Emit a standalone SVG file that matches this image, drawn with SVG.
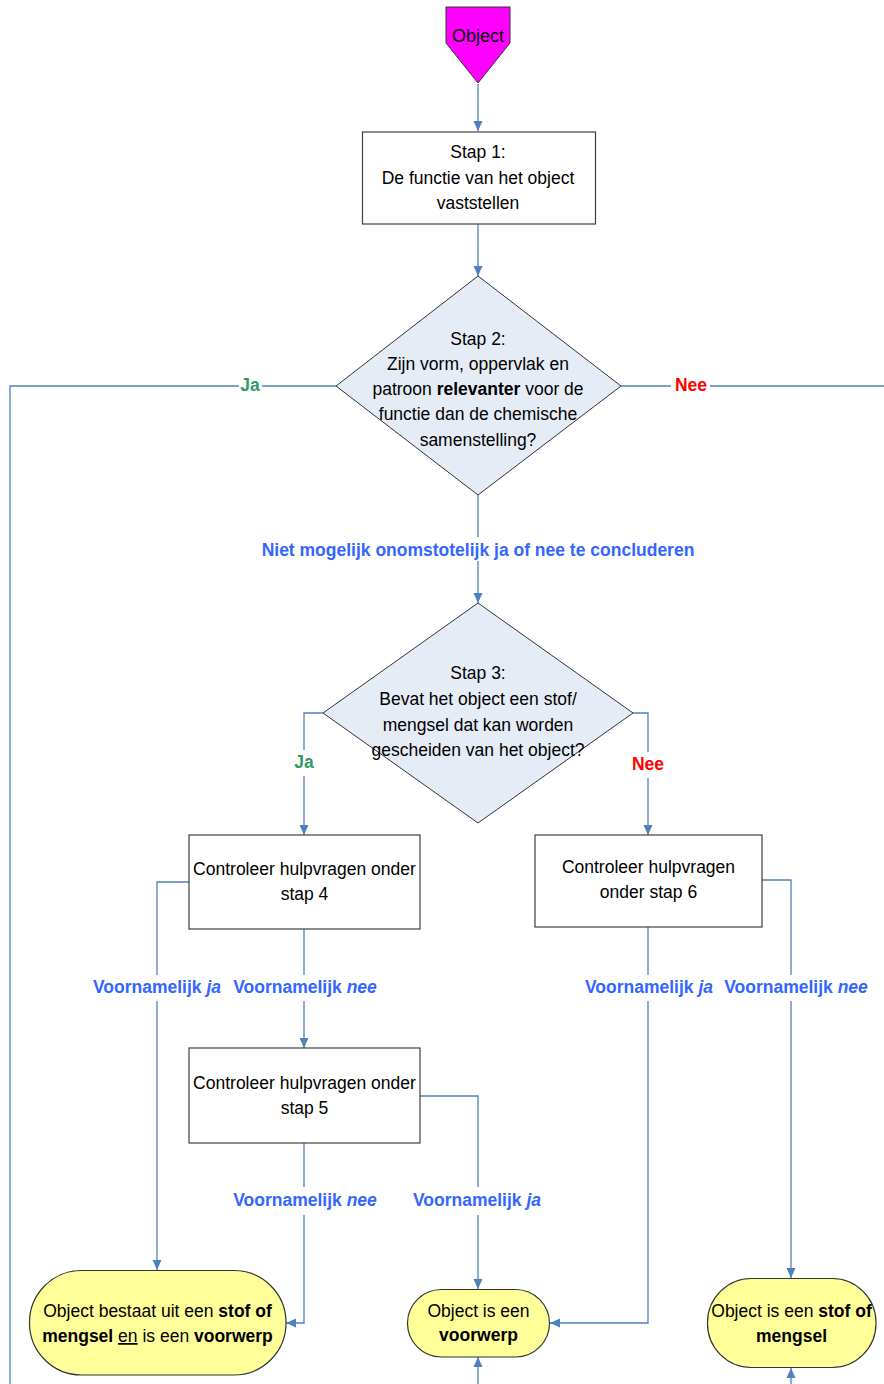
<svg xmlns="http://www.w3.org/2000/svg" width="884" height="1384" viewBox="0 0 884 1384">
<style>
text{font-family:"Liberation Sans",Arial,sans-serif;font-size:17.5px;fill:#000}
.box{fill:#fff;stroke:#404040;stroke-width:1.2}
.dia{fill:#E6ECF6;stroke:#333;stroke-width:1}
.term{fill:#FFFF99;stroke:#333;stroke-width:1.2}
.c{fill:none;stroke:#4F81BD;stroke-width:1.3}
.lbl{font-weight:bold;fill:#3366FF}
.ja{font-weight:bold;fill:#339966}
.nee{font-weight:bold;fill:#FF0000}
.b{font-weight:bold}
.i{font-style:italic}
</style>
<defs>
<marker id="ah" markerUnits="userSpaceOnUse" markerWidth="10" markerHeight="10" refX="10" refY="5" orient="auto">
<path d="M0,0.5 L10,5 L0,9.5 z" fill="#4F81BD"/>
</marker>
</defs>
<rect width="884" height="1384" fill="#fff"/>
<g id="connectors">
<path class="c" d="M478,84 V131" marker-end="url(#ah)"/>
<path class="c" d="M478,224 V276" marker-end="url(#ah)"/>
<path class="c" d="M336,386 H262 M239,386 H10 V1384"/>
<path class="c" d="M621,386 H671 M710,386 H884"/>
<path class="c" d="M478,495 V537"/>
<path class="c" d="M478,561 V603" marker-end="url(#ah)"/>
<path class="c" d="M323,713 H304 V750"/>
<path class="c" d="M304,776 V835" marker-end="url(#ah)"/>
<path class="c" d="M633,713 H648 V752"/>
<path class="c" d="M648,778 V835" marker-end="url(#ah)"/>
<path class="c" d="M189,882 H157 V975"/>
<path class="c" d="M157,1001 V1270" marker-end="url(#ah)"/>
<path class="c" d="M304,929 V975"/>
<path class="c" d="M304,1001 V1048" marker-end="url(#ah)"/>
<path class="c" d="M420,1096 H478 V1187"/>
<path class="c" d="M478,1215 V1289" marker-end="url(#ah)"/>
<path class="c" d="M304,1143 V1187"/>
<path class="c" d="M304,1215 V1323 H286" marker-end="url(#ah)"/>
<path class="c" d="M648,927 V975"/>
<path class="c" d="M648,1001 V1323 H550" marker-end="url(#ah)"/>
<path class="c" d="M762,880 H791 V975"/>
<path class="c" d="M791,1001 V1278" marker-end="url(#ah)"/>
<path class="c" d="M478,1384 V1357" marker-end="url(#ah)"/>
<path class="c" d="M791,1384 V1368" marker-end="url(#ah)"/>
<text class="ja" x="250" y="391" text-anchor="middle">Ja</text>
<text class="nee" x="691" y="391" text-anchor="middle">Nee</text>
<text class="lbl" x="478" y="556" text-anchor="middle">Niet mogelijk onomstotelijk ja of nee te concluderen</text>
<text class="ja" x="304" y="768" text-anchor="middle">Ja</text>
<text class="nee" x="648" y="770" text-anchor="middle">Nee</text>
<text class="lbl" x="157" y="993" text-anchor="middle">Voornamelijk <tspan class="i">ja</tspan></text>
<text class="lbl" x="305" y="993" text-anchor="middle">Voornamelijk <tspan class="i">nee</tspan></text>
<text class="lbl" x="649" y="993" text-anchor="middle">Voornamelijk <tspan class="i">ja</tspan></text>
<text class="lbl" x="796" y="993" text-anchor="middle">Voornamelijk <tspan class="i">nee</tspan></text>
<text class="lbl" x="305" y="1206" text-anchor="middle">Voornamelijk <tspan class="i">nee</tspan></text>
<text class="lbl" x="477" y="1206" text-anchor="middle">Voornamelijk <tspan class="i">ja</tspan></text>
</g>
<g id="start">
<polygon points="446,7 510,7 510,43 478,83 446,43" fill="#FF00FF" stroke="#333" stroke-width="1"/>
<text x="478" y="42" text-anchor="middle" style="font-size:18px">Object</text>
</g>
<g id="stap1">
<rect class="box" x="362.5" y="132" width="233" height="92"/>
<text x="478" y="158" text-anchor="middle">Stap 1:</text>
<text x="478" y="184" text-anchor="middle">De functie van het object</text>
<text x="478" y="209" text-anchor="middle">vaststellen</text>
</g>
<g id="stap2">
<polygon class="dia" points="478,276 621,386 478,495 336,386"/>
<text x="478" y="345" text-anchor="middle">Stap 2:</text>
<text x="478" y="370" text-anchor="middle">Zijn vorm, oppervlak en</text>
<text x="478" y="395" text-anchor="middle">patroon <tspan class="b">relevanter</tspan> voor de</text>
<text x="478" y="420" text-anchor="middle">functie dan de chemische</text>
<text x="478" y="446" text-anchor="middle">samenstelling?</text>
</g>
<g id="stap3">
<polygon class="dia" points="478,603 633,713 478,823 323,713"/>
<text x="478" y="679" text-anchor="middle">Stap 3:</text>
<text x="478" y="705" text-anchor="middle">Bevat het object een stof/</text>
<text x="478" y="731" text-anchor="middle">mengsel dat kan worden</text>
<text x="478" y="756" text-anchor="middle">gescheiden van het object?</text>
</g>
<g id="stap4">
<rect class="box" x="189" y="835" width="231" height="94"/>
<text x="304.5" y="875" text-anchor="middle">Controleer hulpvragen onder</text>
<text x="304.5" y="900" text-anchor="middle">stap 4</text>
</g>
<g id="stap5">
<rect class="box" x="189" y="1048" width="231" height="95"/>
<text x="304.5" y="1089" text-anchor="middle">Controleer hulpvragen onder</text>
<text x="304.5" y="1114" text-anchor="middle">stap 5</text>
</g>
<g id="stap6">
<rect class="box" x="535" y="835" width="227" height="92"/>
<text x="648.5" y="873" text-anchor="middle">Controleer hulpvragen</text>
<text x="648.5" y="898" text-anchor="middle">onder stap 6</text>
</g>
<g id="eind1">
<rect class="term" x="29.5" y="1270.5" width="256.5" height="104.5" rx="52" ry="52"/>
<text x="157.5" y="1317" text-anchor="middle">Object bestaat uit een <tspan class="b">stof of</tspan></text>
<text x="157.5" y="1342" text-anchor="middle"><tspan class="b">mengsel</tspan> <tspan text-decoration="underline">en</tspan> is een <tspan class="b">voorwerp</tspan></text>
</g>
<g id="eind2">
<rect class="term" x="407.5" y="1289.5" width="142" height="67.5" rx="34" ry="34"/>
<text x="478.5" y="1317" text-anchor="middle">Object is een</text>
<text x="478.5" y="1341" text-anchor="middle" class="b">voorwerp</text>
</g>
<g id="eind3">
<rect class="term" x="707.5" y="1278.5" width="168.5" height="89" rx="44" ry="44"/>
<text x="791.5" y="1317" text-anchor="middle">Object is een <tspan class="b">stof of</tspan></text>
<text x="791.5" y="1342" text-anchor="middle" class="b">mengsel</text>
</g>
</svg>
